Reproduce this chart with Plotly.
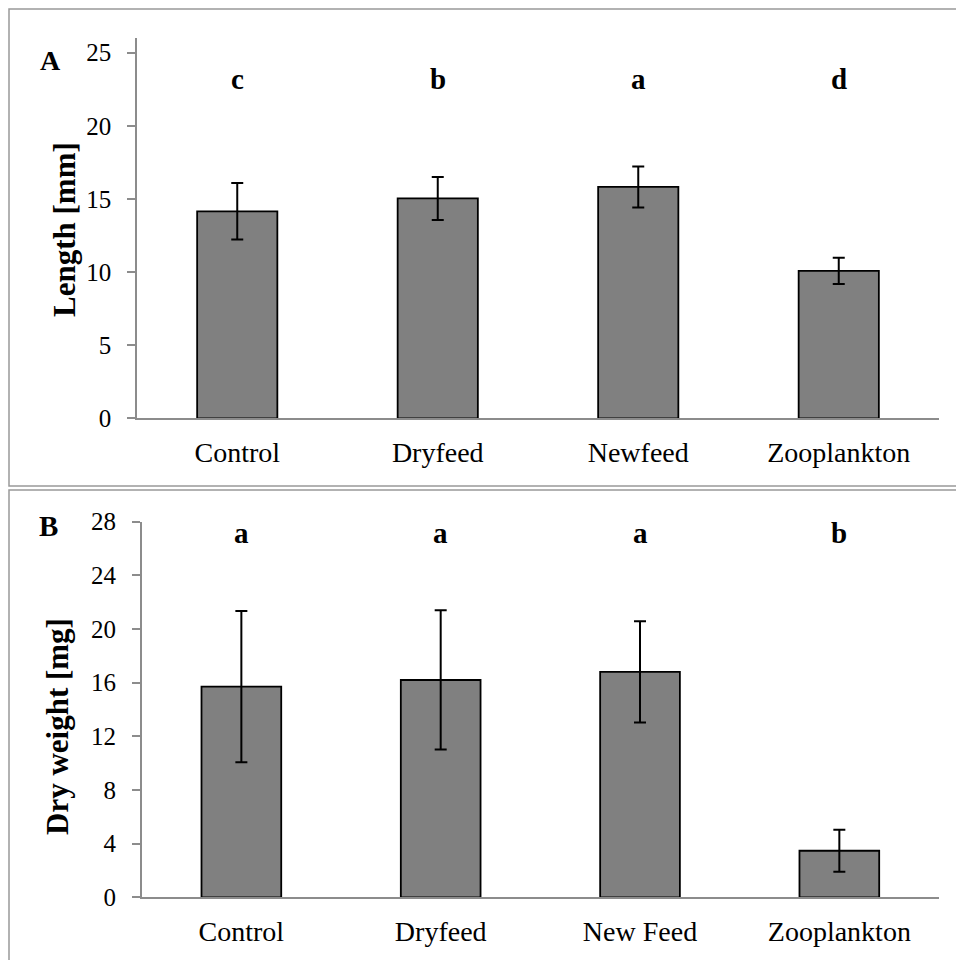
import plotly.graph_objects as go

# ---- data ----
categories_a = ["Control", "Dryfeed", "Newfeed", "Zooplankton"]
length_mean = [14.15, 15.03, 15.82, 10.08]
length_err = [1.93, 1.47, 1.40, 0.89]
letters_a = ["c", "b", "a", "d"]

categories_b = ["Control", "Dryfeed", "New Feed", "Zooplankton"]
weight_mean = [15.70, 16.20, 16.80, 3.47]
weight_err = [5.64, 5.19, 3.77, 1.57]
letters_b = ["a", "a", "a", "b"]

W, H = 956, 960
FONT = "'Liberation Serif', 'Times New Roman', serif"
AXIS_GRAY = "#8c8c8c"


def px(x):
    return x / W


def py(y):
    return 1 - y / H


fig = go.Figure()

bar_style = dict(marker=dict(color="#808080", line=dict(color="black", width=1.8)),
                 showlegend=False, hoverinfo="skip")
err_style = dict(type="data", visible=True, color="black", thickness=2, width=6)

fig.add_trace(go.Bar(x=categories_a, y=length_mean,
                     error_y=dict(array=length_err, **err_style),
                     xaxis="x", yaxis="y", **bar_style))
fig.add_trace(go.Bar(x=categories_b, y=weight_mean,
                     error_y=dict(array=weight_err, **err_style),
                     xaxis="x2", yaxis="y2", **bar_style))

xaxis_common = dict(type="category", showline=True, linecolor=AXIS_GRAY, linewidth=1.5,
                    ticks="", showgrid=False, zeroline=False, automargin=False,
                    ticklabelstandoff=8,
                    tickfont=dict(family=FONT, size=28, color="black"))
yaxis_common = dict(showline=True, linecolor=AXIS_GRAY, linewidth=1.5,
                    ticks="outside", ticklen=8, tickwidth=1.5, tickcolor=AXIS_GRAY,
                    showgrid=False, zeroline=False, automargin=False,
                    ticklabelstandoff=11,
                    tickfont=dict(family=FONT, size=25, color="black"))

annotations = []
for cat, lt in zip(categories_a, letters_a):
    annotations.append(dict(x=cat, y=py(79), xref="x", yref="paper", text="<b>%s</b>" % lt,
                            showarrow=False, font=dict(family=FONT, size=29, color="black"),
                            xanchor="center", yanchor="middle"))
for cat, lt in zip(categories_b, letters_b):
    annotations.append(dict(x=cat, y=py(533), xref="x2", yref="paper", text="<b>%s</b>" % lt,
                            showarrow=False, font=dict(family=FONT, size=29, color="black"),
                            xanchor="center", yanchor="middle"))
annotations += [
    dict(x=px(50.5), y=py(61), xref="paper", yref="paper", text="<b>A</b>", showarrow=False,
         xanchor="center", yanchor="middle",
         font=dict(family=FONT, size=28, color="black")),
    dict(x=px(48), y=py(526), xref="paper", yref="paper", text="<b>B</b>", showarrow=False,
         xanchor="center", yanchor="middle",
         font=dict(family=FONT, size=29, color="black")),
    dict(x=px(64), y=py(229), xref="paper", yref="paper", text="<b>Length [mm]</b>",
         showarrow=False, textangle=-90, xanchor="center", yanchor="middle",
         font=dict(family=FONT, size=31, color="black")),
    dict(x=px(57), y=py(727), xref="paper", yref="paper", text="<b>Dry weight [mg]</b>",
         showarrow=False, textangle=-90, xanchor="center", yanchor="middle",
         font=dict(family=FONT, size=31, color="black")),
]

shapes = [
    dict(type="rect", xref="paper", yref="paper", x0=px(9), y0=py(9), x1=px(975), y1=py(486),
         line=dict(color="#999999", width=1.5)),
    dict(type="rect", xref="paper", yref="paper", x0=px(9), y0=py(490), x1=px(975), y1=py(985),
         line=dict(color="#999999", width=1.5)),
]

fig.update_layout(
    width=W, height=H, autosize=False,
    margin=dict(l=0, r=0, t=0, b=0, pad=0, autoexpand=False),
    paper_bgcolor="white", plot_bgcolor="white",
    bargap=0.6,
    xaxis=dict(domain=[px(137), px(939)], anchor="y", **xaxis_common),
    yaxis=dict(domain=[py(418.3), py(38)], anchor="x", range=[0, 26], dtick=5, **yaxis_common),
    xaxis2=dict(domain=[px(141.7), px(939)], anchor="y2", **xaxis_common),
    yaxis2=dict(domain=[py(897.3), py(521.7)], anchor="x2", range=[0, 28], dtick=4, **yaxis_common),
    annotations=annotations,
    shapes=shapes,
)

fig.write_html("out.html", config={"displayModeBar": False},
               post_script="document.body.style.margin='0px';")
